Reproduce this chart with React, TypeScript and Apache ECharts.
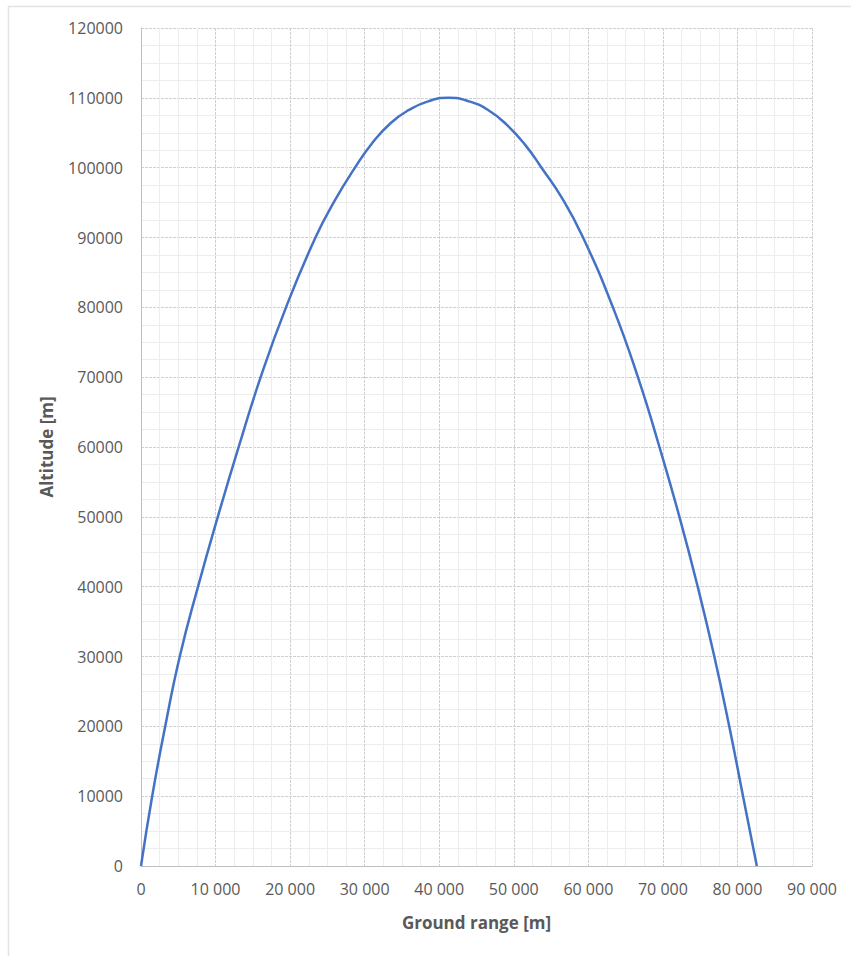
import React, { useEffect, useRef } from "react";
import * as echarts from "echarts";

// Ground range [m] and altitude [m]
const groundRange = [
  0, 1500, 3250, 5200, 7650, 10300, 13100, 16050, 19450, 23400, 26000, 28700,
  31000, 33500, 36000, 38500, 41240, 44000, 46500, 49000, 51500, 53720, 56500,
  59290, 63300, 66650, 69540, 72220, 74670, 76900, 78900, 80750, 82600,
];
const altitude = [
  0, 10000, 20000, 30000, 40000, 50000, 60000, 70000, 80000, 90000, 95300,
  100000, 103500, 106400, 108300, 109500, 110000, 109500, 108300, 106200,
  103300, 100000, 95600, 90000, 80000, 70000, 60000, 50000, 40000, 30000,
  20000, 10000, 0,
];

const xAxisName = "Ground range [m]";
const yAxisName = "Altitude [m]";

const FONT = "'Open Sans', 'Noto Sans', sans-serif";
const LABEL_COLOR = "#595959";

export default function App() {
  const ref = useRef<HTMLDivElement>(null);

  useEffect(() => {
    if (!ref.current) return;
    const chart = echarts.init(ref.current, undefined, { renderer: "svg" });
    const data = groundRange.map((x, i) => [x, altitude[i]]);
    chart.setOption({
      animation: false,
      backgroundColor: "#ffffff",
      grid: { left: 141, right: 39, top: 28, bottom: 90, containLabel: false },
      graphic: [
        {
          type: "line",
          shape: { x1: 8, y1: 6.5, x2: 851, y2: 6.5 },
          style: { stroke: "#e3e3e3", lineWidth: 1.5 },
          silent: true,
        },
        {
          type: "line",
          shape: { x1: 8.5, y1: 6, x2: 8.5, y2: 956 },
          style: { stroke: "#e3e3e3", lineWidth: 1.5 },
          silent: true,
        },
      ],
      xAxis: {
        type: "value",
        min: 0,
        max: 90000,
        interval: 10000,
        name: xAxisName,
        nameLocation: "middle",
        nameGap: 48,
        nameTextStyle: {
          fontFamily: FONT,
          fontSize: 17,
          fontWeight: "bold",
          color: LABEL_COLOR,
          verticalAlign: "top",
        },
        axisLine: { show: true, lineStyle: { color: "#bfbfbf", width: 1 } },
        axisTick: { show: false },
        axisLabel: {
          margin: 15,
          fontFamily: FONT,
          fontSize: 16,
          color: LABEL_COLOR,
          formatter: (v: number) =>
            String(v).replace(/\B(?=(\d{3})+(?!\d))/g, " "),
        },
        splitLine: {
          show: true,
          lineStyle: { color: "#d0d0d0", type: [3, 1], width: 1 },
        },
        minorTick: { show: false, splitNumber: 4 },
        minorSplitLine: {
          show: true,
          lineStyle: { color: "#ededed", width: 1 },
        },
      },
      yAxis: {
        type: "value",
        min: 0,
        max: 120000,
        interval: 10000,
        name: yAxisName,
        nameLocation: "middle",
        nameGap: 86,
        nameRotate: 90,
        nameTextStyle: {
          fontFamily: FONT,
          fontSize: 17,
          fontWeight: "bold",
          color: LABEL_COLOR,
        },
        axisLine: { show: true, lineStyle: { color: "#bfbfbf", width: 1 } },
        axisTick: { show: false },
        axisLabel: {
          margin: 18,
          fontFamily: FONT,
          fontSize: 16,
          color: LABEL_COLOR,
          formatter: (v: number) => String(v),
        },
        splitLine: {
          show: true,
          lineStyle: { color: "#d0d0d0", type: [3, 1], width: 1 },
        },
        minorTick: { show: false, splitNumber: 4 },
        minorSplitLine: {
          show: true,
          lineStyle: { color: "#ededed", width: 1 },
        },
      },
      series: [
        {
          type: "line",
          data,
          smooth: 0.5,
          showSymbol: false,
          symbol: "none",
          lineStyle: { color: "#4472c4", width: 2.5 },
        },
      ],
    });
    return () => chart.dispose();
  }, []);

  return (
    <div
      ref={ref}
      style={{ position: "fixed", left: 0, top: 0, width: 851, height: 956 }}
    />
  );
}
